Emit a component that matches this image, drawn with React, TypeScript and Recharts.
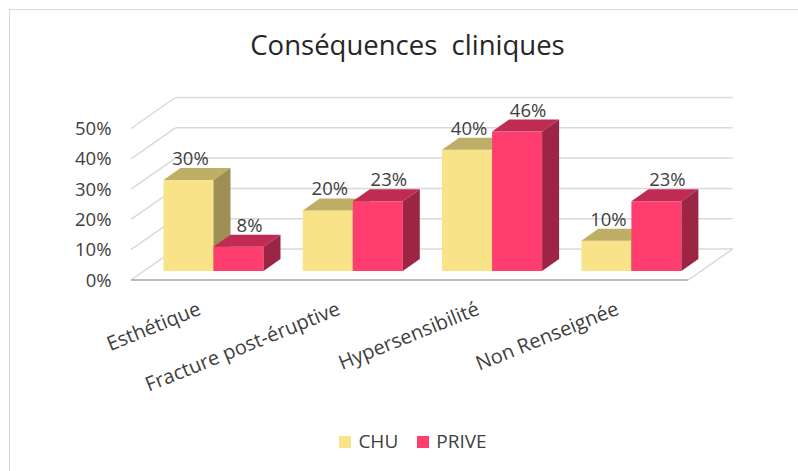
import React from "react";
import {
  BarChart,
  Bar,
  XAxis,
  YAxis,
  CartesianGrid,
  LabelList,
  Legend,
} from "recharts";

const categories = [
  "Esthétique",
  "Fracture post-éruptive",
  "Hypersensibilité",
  "Non Renseignée",
];
const chuValues = [30, 20, 40, 10];
const priveValues = [8, 23, 46, 23];
const yTicks = [0, 10, 20, 30, 40, 50];

const data = categories.map((name, i) => ({
  name,
  CHU: chuValues[i],
  PRIVE: priveValues[i],
}));

const FONT = "'Open Sans', sans-serif";
const TEXT = "#404040";
const GRID = "#d9d9d9";

// fake 3D: bar depth and wall offsets relative to the bar plane
const BAR_DX = 17;
const BAR_DY = 12;
const BACK_DX = 32;
const BACK_DY = -22;
const FRONT_DX = -12.5;
const FRONT_DY = 9;

const colors = {
  CHU: { front: "#f8e388", top: "#bfae66", side: "#9e8f55" },
  PRIVE: { front: "#ff3d6e", top: "#c02b54", side: "#9c2445" },
};

const boxShape = (c: { front: string; top: string; side: string }) => (props: any) => {
  const { x, y, width: w, height: h } = props;
  if (!h || h <= 0) return <g />;
  return (
    <g>
      <rect x={x} y={y} width={w} height={h} fill={c.front} />
      <polygon
        points={`${x},${y} ${x + BAR_DX},${y - BAR_DY} ${x + w + BAR_DX},${y - BAR_DY} ${x + w},${y}`}
        fill={c.top}
      />
      <polygon
        points={`${x + w},${y} ${x + w + BAR_DX},${y - BAR_DY} ${x + w + BAR_DX},${y + h - BAR_DY} ${x + w},${y + h}`}
        fill={c.side}
      />
    </g>
  );
};

const gridLine = (props: any) => {
  const { x1, x2, y1, y, height, index } = props;
  const isBase = Math.abs(y1 - (y + height)) < 0.5;
  const by = y1 + BACK_DY;
  const fy = y1 + FRONT_DY;
  return (
    <g key={`grid-${index}`}>
      <line x1={x1 + FRONT_DX} y1={fy} x2={x1 + BACK_DX} y2={by} stroke={GRID} strokeWidth={1.5} />
      <line x1={x1 + BACK_DX} y1={by} x2={x2 + BACK_DX} y2={by} stroke={GRID} strokeWidth={1.5} />
      {isBase && (
        <>
          <line x1={x2 + FRONT_DX} y1={fy} x2={x2 + BACK_DX} y2={by} stroke={GRID} strokeWidth={1.5} />
          <line x1={x1 + FRONT_DX} y1={fy} x2={x2 + FRONT_DX} y2={fy} stroke="#a6a6a6" strokeWidth={1.5} />
        </>
      )}
    </g>
  );
};

const YTick = (props: any) => {
  const { x, y, payload } = props;
  return (
    <text x={x - 32} y={y + 15.5} textAnchor="end" fontFamily={FONT} fontSize={18.5} fill={TEXT}>
      {`${payload.value}%`}
    </text>
  );
};

const XTick = (props: any) => {
  const { x, y, payload } = props;
  const ax = x - 11;
  const ay = y + 43;
  return (
    <text
      x={ax}
      y={ay}
      textAnchor="end"
      transform={`rotate(-22, ${ax}, ${ay})`}
      fontFamily={FONT}
      fontSize={20}
      fill={TEXT}
    >
      {payload.value}
    </text>
  );
};

const valueLabel = (shift: number) => (props: any) => {
  const { x, y, width, value } = props;
  return (
    <text
      x={x + width / 2 + shift}
      y={y - 15}
      textAnchor="middle"
      fontFamily={FONT}
      fontSize={18.5}
      fill={TEXT}
    >
      {`${value}%`}
    </text>
  );
};

const LegendContent = (props: any) => {
  const { payload } = props;
  return (
    <div
      style={{
        display: "flex",
        justifyContent: "center",
        alignItems: "center",
        paddingLeft: 28,
        fontFamily: FONT,
        fontSize: 19,
        color: TEXT,
      }}
    >
      {(payload || []).map((p: any, i: number) => (
        <div key={p.value} style={{ display: "flex", alignItems: "center", marginLeft: i ? 19 : 0 }}>
          <span
            style={{ width: 12, height: 12, marginTop: 2, marginRight: 7, background: colors[p.value as "CHU" | "PRIVE"].front }}
          />
          <span>{p.value}</span>
        </div>
      ))}
    </div>
  );
};

export default function App() {
  return (
    <div style={{ position: "absolute", left: 0, top: 0, width: 798, height: 471, background: "#fff" }}>
      <div
        style={{
          position: "absolute",
          left: 9,
          top: 9,
          width: 800,
          height: 480,
          border: `1.5px solid ${GRID}`,
        }}
      />
      <div
        style={{
          position: "absolute",
          left: 0,
          width: 815,
          top: 25.6,
          textAlign: "center",
          fontFamily: FONT,
          fontSize: 27.5,
          color: "#262626",
          whiteSpace: "pre",
        }}
      >
        {"Conséquences  cliniques"}
      </div>
      <div style={{ position: "absolute", left: 0, top: 0 }}>
        <BarChart
          width={798}
          height={471}
          data={data}
          margin={{ top: 119.5, right: 97.3, left: 113.5, bottom: 140 }}
          barGap={0}
          barSize={50}
        >
          <CartesianGrid vertical={false} horizontal={gridLine} />
          <XAxis
            dataKey="name"
            interval={0}
            height={60}
            axisLine={false}
            tickLine={false}
            tickSize={0}
            tickMargin={0}
            tick={<XTick />}
          />
          <YAxis
            domain={[0, 50]}
            ticks={yTicks}
            width={30}
            axisLine={false}
            tickLine={false}
            tickSize={0}
            tickMargin={0}
            tick={<YTick />}
          />
          <Legend
            layout="horizontal"
            verticalAlign="middle"
            align="center"
            wrapperStyle={{ top: 428, left: 0, width: 798 }}
            content={<LegendContent />}
          />
          <Bar dataKey="CHU" fill={colors.CHU.front} shape={boxShape(colors.CHU)} isAnimationActive={false}>
            <LabelList dataKey="CHU" content={valueLabel(2)} />
          </Bar>
          <Bar dataKey="PRIVE" fill={colors.PRIVE.front} shape={boxShape(colors.PRIVE)} isAnimationActive={false}>
            <LabelList dataKey="PRIVE" content={valueLabel(11)} />
          </Bar>
        </BarChart>
      </div>
    </div>
  );
}
